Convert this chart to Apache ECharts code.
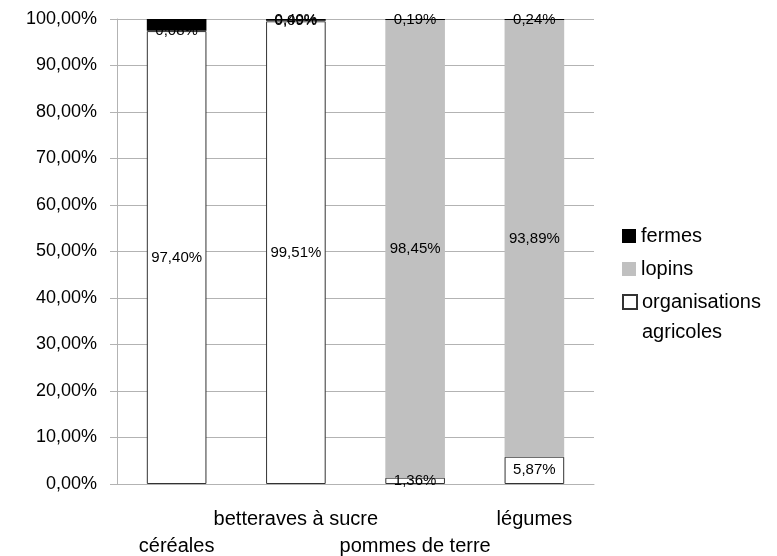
<!DOCTYPE html>
<html>
<head>
<meta charset="utf-8">
<script src="https://cdn.jsdelivr.net/npm/echarts@6/dist/echarts.min.js"></script>
<style>
  html, body { margin: 0; padding: 0; background: #fff; }
  #main { width: 777px; height: 556px; }
</style>
</head>
<body>
<div id="main"></div>
<script>
// categories and values (percent of total)
const categories = ["céréales", "betteraves à sucre", "pommes de terre", "légumes"];
const organisations = [97.40, 99.51, 1.36, 5.87];
const lopins = [0.08, 0.09, 98.45, 93.89];
const fermes = [2.52, 0.40, 0.19, 0.24];
const yTicks = [0, 10, 20, 30, 40, 50, 60, 70, 80, 90, 100];

const font = "Liberation Sans, Arial, sans-serif";
const fmt = (v) => v.toFixed(2).replace(".", ",") + "%";

const chartDom = document.getElementById("main");
const myChart = echarts.init(chartDom);

const label = {
  show: true,
  position: "inside",
  color: "#000",
  fontFamily: font,
  fontSize: 15,
  formatter: (p) => fmt(p.value),
};

const legendText = { fontFamily: font, fontSize: 20, color: "#000" };

const option = {
  animation: false,
  grid: { left: 117, top: 19, width: 477, height: 465, outerBoundsMode: "none" },
  legend: [
    {
      orient: "vertical",
      left: 622,
      top: 226,
      padding: 0,
      itemWidth: 14,
      itemHeight: 14,
      itemGap: 13,
      icon: "rect",
      textStyle: legendText,
      data: ["fermes", "lopins"],
    },
    {
      orient: "vertical",
      left: 622,
      top: 257,
      padding: 0,
      itemWidth: 14,
      itemHeight: 14,
      icon: "rect",
      textStyle: Object.assign({ lineHeight: 30 }, legendText),
      data: ["organisations agricoles"],
      // blank first line keeps the square level with "organisations"
      formatter: () => " \norganisations\nagricoles",
    },
  ],
  xAxis: {
    type: "category",
    data: categories,
    axisLine: { lineStyle: { color: "#b3b3b3" } },
    axisTick: { length: 8, lineStyle: { color: "#b3b3b3" } },
    axisLabel: {
      interval: 0,
      color: "#000",
      fontFamily: font,
      fontSize: 20,
      margin: 22,
      lineHeight: 27,
      verticalAlign: "top",
      formatter: (v, i) => (i % 2 ? v : "\n" + v),
    },
  },
  yAxis: {
    type: "value",
    min: yTicks[0],
    max: yTicks[yTicks.length - 1],
    interval: 10,
    axisLine: { show: true, lineStyle: { color: "#b3b3b3" } },
    axisTick: { show: true, length: 7, lineStyle: { color: "#b3b3b3" } },
    splitLine: { lineStyle: { color: "#b3b3b3" } },
    axisLabel: {
      color: "#000",
      fontFamily: font,
      fontSize: 18,
      margin: 20,
      formatter: (v) => fmt(v),
    },
  },
  series: [
    {
      name: "organisations agricoles",
      type: "bar",
      stack: "total",
      barWidth: "50%",
      data: organisations,
      itemStyle: { color: "#fff", borderColor: "#333", borderWidth: 1 },
      label,
    },
    {
      name: "lopins",
      type: "bar",
      stack: "total",
      data: lopins,
      itemStyle: { color: "#c0c0c0" },
      label,
    },
    {
      name: "fermes",
      type: "bar",
      stack: "total",
      data: fermes,
      itemStyle: { color: "#000" },
      label,
    },
  ],
};

option && myChart.setOption(option);
</script>
</body>
</html>
